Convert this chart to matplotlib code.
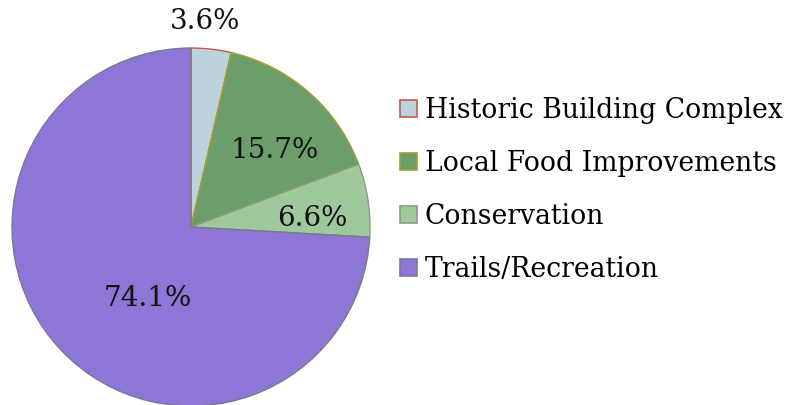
import matplotlib.pyplot as plt
from matplotlib.patches import Patch

categories = ["Historic Building Complex", "Local Food Improvements",
              "Conservation", "Trails/Recreation"]
shares = [3.6, 15.7, 6.6, 74.1]

face_colors = ["#bcd3de", "#6b9e6a", "#9fc99c", "#8e76d6"]
edge_colors = ["#c8594a", "#a6a030", "#8a9a88", "#7c7790"]

# label centres in axes data units (pie radius = 1)
label_xy = [(0.08, 1.15), (0.47, 0.43), (0.68, 0.05), (-0.24, -0.40)]

plt.rcParams["font.family"] = ["DejaVu Serif"]

fig = plt.figure(figsize=(8.07, 4.05), dpi=100)
ax = fig.add_axes([0.0149, -0.0025, 0.4436, 0.884])

wedges, texts, autotexts = ax.pie(
    shares, colors=face_colors, startangle=90, counterclock=False,
    autopct="%.1f%%", radius=1.0,
    wedgeprops=dict(linewidth=1.0),
    textprops=dict(fontsize=20, color="#111111"),
)
for w, ec in zip(wedges, edge_colors):
    w.set_edgecolor(ec)
for t, (x, y) in zip(autotexts, label_xy):
    t.set_position((x, y))
    t.set_ha("center")
    t.set_va("center")
ax.set_xlim(-1.0, 1.0)
ax.set_ylim(-1.0, 1.0)
ax.set_aspect("equal")
ax.axis("off")

handles = [Patch(facecolor=fc, edgecolor=ec, linewidth=1.2)
           for fc, ec in zip(face_colors, edge_colors)]
fig.legend(handles, categories, loc="center left",
           bbox_to_anchor=(0.483, 0.531), frameon=False,
           fontsize=19.2, handlelength=0.62, handleheight=0.62,
           handletextpad=0.3, labelspacing=0.97, borderaxespad=0)

fig.savefig("out.png", dpi=100, facecolor="white")
